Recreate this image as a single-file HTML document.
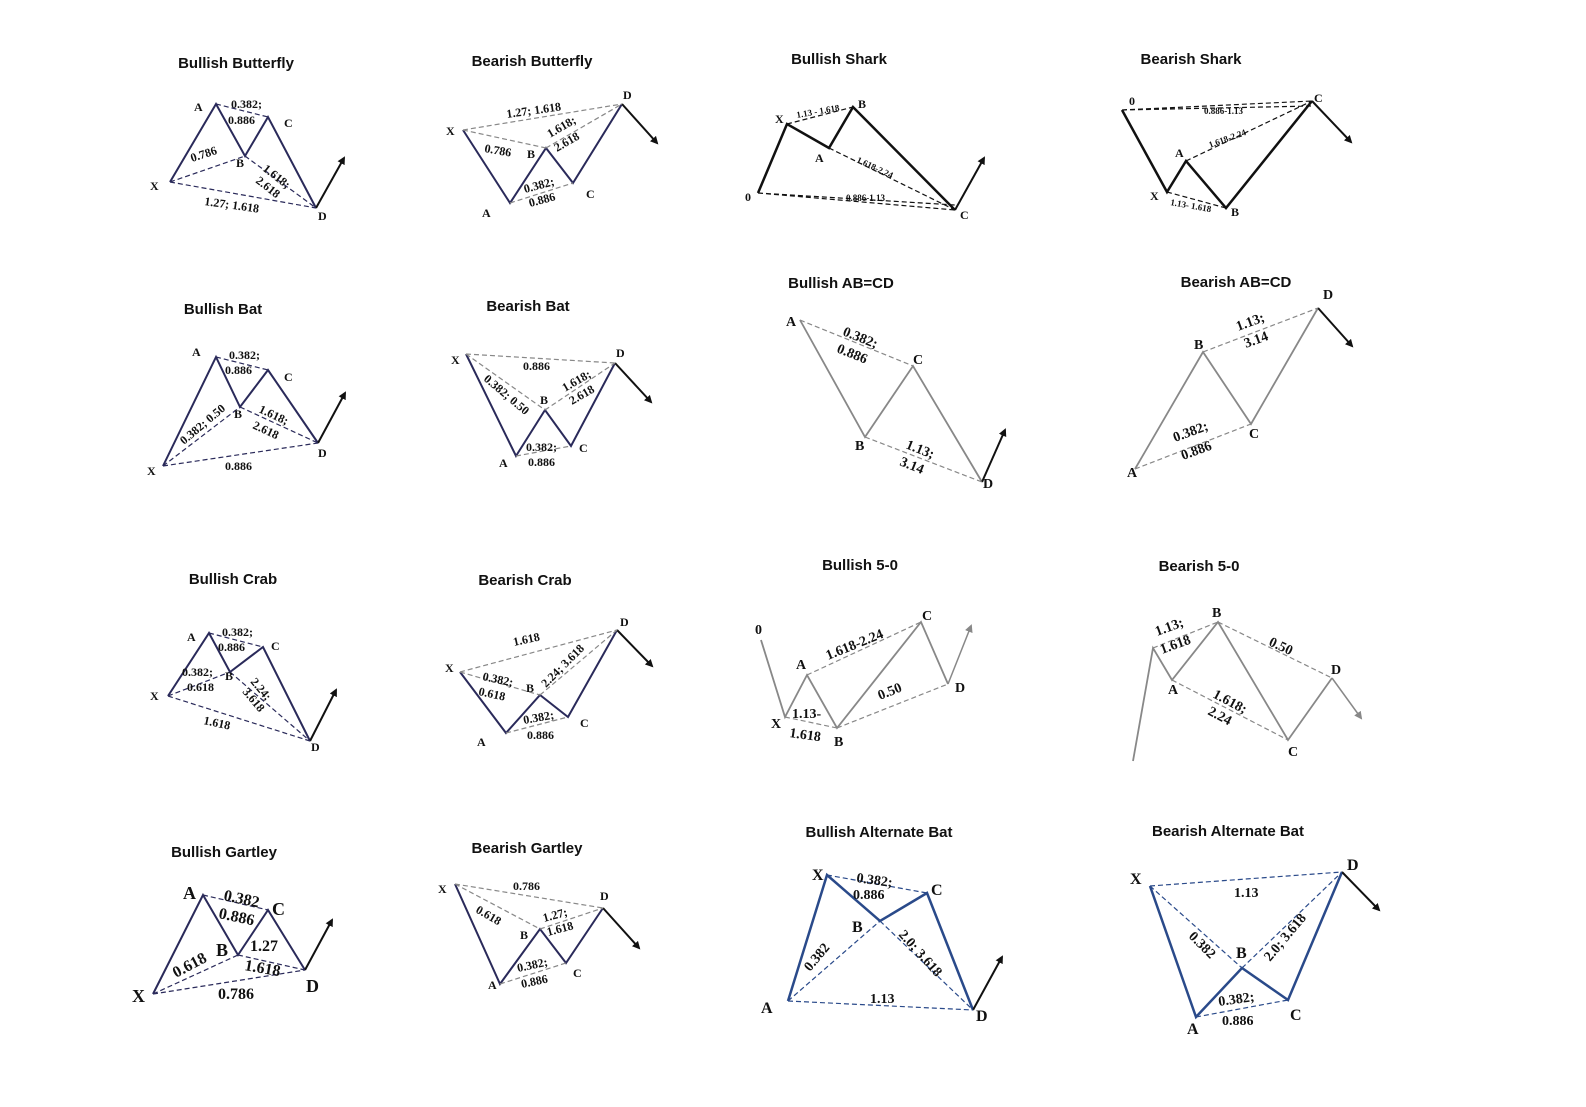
<!DOCTYPE html>
<html><head><meta charset="utf-8"><style>
html,body{margin:0;padding:0;background:#fff}
svg{display:block}
.t{font-family:"Liberation Sans",sans-serif;font-weight:bold;font-size:15px;fill:#111;text-anchor:middle}
.l{font-family:"Liberation Serif",serif;font-weight:bold;font-size:12px;fill:#111}
.big{font-size:16px}
.s{fill:none;stroke-width:2}
.d{fill:none;stroke-width:1.2;stroke-dasharray:5,3}
.n{stroke:#2a2a5a}.k{stroke:#111}.g{stroke:#888}.b{stroke:#2a4a8a}
</style></head><body>
<svg width="1586" height="1107" viewBox="0 0 1586 1107" xmlns="http://www.w3.org/2000/svg">
<defs><marker id="ar" markerWidth="8" markerHeight="8" refX="6" refY="4" orient="auto" markerUnits="userSpaceOnUse"><path d="M0,0 L8,4 L0,8 z" fill="#111"/></marker>
<marker id="ag" markerWidth="8" markerHeight="8" refX="6" refY="4" orient="auto" markerUnits="userSpaceOnUse"><path d="M0,0 L8,4 L0,8 z" fill="#888"/></marker></defs>

<!-- Titles -->
<text class="t" x="236" y="68">Bullish Butterfly</text>
<text class="t" x="532" y="66">Bearish Butterfly</text>
<text class="t" x="839" y="64">Bullish Shark</text>
<text class="t" x="1191" y="64">Bearish Shark</text>
<text class="t" x="223" y="314">Bullish Bat</text>
<text class="t" x="528" y="311">Bearish Bat</text>
<text class="t" x="841" y="288">Bullish AB=CD</text>
<text class="t" x="1236" y="287">Bearish AB=CD</text>
<text class="t" x="233" y="584">Bullish Crab</text>
<text class="t" x="525" y="585">Bearish Crab</text>
<text class="t" x="860" y="570">Bullish 5-0</text>
<text class="t" x="1199" y="571">Bearish 5-0</text>
<text class="t" x="224" y="857">Bullish Gartley</text>
<text class="t" x="527" y="853">Bearish Gartley</text>
<text class="t" x="879" y="837">Bullish Alternate Bat</text>
<text class="t" x="1228" y="836">Bearish Alternate Bat</text>

<!-- 1 Bullish Butterfly -->
<polyline class="s n" points="170,182 216,104 245,156 268,117 316,208"/>
<line class="s k" x1="316" y1="208" x2="344" y2="158" marker-end="url(#ar)"/>
<path class="d n" d="M170,182 L245,156 M216,104 L268,117 M245,156 L316,208 M170,182 L316,208"/>
<g class="l"><text x="231" y="108">0.382;</text><text x="228" y="124">0.886</text><text x="192" y="162" transform="rotate(-18 192 162)">0.786</text><text x="262" y="170" transform="rotate(38 262 170)">1.618;</text><text x="255" y="182" transform="rotate(38 255 182)">2.618</text><text x="204" y="205" transform="rotate(8 204 205)">1.27; 1.618</text>
<text x="194" y="111">A</text><text x="284" y="127">C</text><text x="236" y="167">B</text><text x="150" y="190">X</text><text x="318" y="220">D</text></g>

<!-- 2 Bearish Butterfly -->
<polyline class="s n" points="463,130 510,203 546,148 573,183 622,104"/>
<line class="s k" x1="622" y1="104" x2="657" y2="143" marker-end="url(#ar)"/>
<path class="d g" d="M463,130 L622,104 M463,130 L546,148 M510,203 L573,183 M546,148 L622,104"/>
<g class="l"><text x="507" y="118" transform="rotate(-8 507 118)">1.27; 1.618</text><text x="484" y="152" transform="rotate(10 484 152)">0.786</text><text x="550" y="138" transform="rotate(-30 550 138)">1.618;</text><text x="557" y="152" transform="rotate(-30 557 152)">2.618</text><text x="525" y="193" transform="rotate(-15 525 193)">0.382;</text><text x="530" y="207" transform="rotate(-15 530 207)">0.886</text>
<text x="446" y="135">X</text><text x="482" y="217">A</text><text x="527" y="158">B</text><text x="586" y="198">C</text><text x="623" y="99">D</text></g>

<!-- 3 Bullish Shark -->
<polyline class="s k" style="stroke-width:2.5" points="758,193 787,124 829,148 853,107 955,210"/>
<line class="s k" x1="955" y1="210" x2="984" y2="158" marker-end="url(#ar)"/>
<path class="d k" d="M787,124 L853,107 M829,148 L955,210 M758,193 L955,210 M758,193 L955,205"/>
<g class="l" style="font-size:9px"><text x="797" y="118" transform="rotate(-10 797 118)">1.13 - 1.618</text><text x="856" y="162" transform="rotate(25 856 162)">1.618-2.24</text><text x="846" y="201">0.886-1.13</text></g>
<g class="l"><text x="745" y="201">0</text><text x="775" y="123">X</text><text x="815" y="162">A</text><text x="858" y="108">B</text><text x="960" y="219">C</text></g>

<!-- 4 Bearish Shark -->
<polyline class="s k" style="stroke-width:2.5" points="1122,110 1167,192 1186,161 1226,208 1312,101"/>
<line class="s k" x1="1312" y1="101" x2="1351" y2="142" marker-end="url(#ar)"/>
<path class="d k" d="M1122,110 L1312,101 M1122,110 L1312,106 M1186,161 L1312,101 M1167,192 L1226,208"/>
<g class="l" style="font-size:9px"><text x="1204" y="114">0.886-1.13</text><text x="1210" y="148" transform="rotate(-20 1210 148)">1.618-2.24</text><text x="1170" y="205" transform="rotate(10 1170 205)">1.13- 1.618</text></g>
<g class="l"><text x="1129" y="105">0</text><text x="1150" y="200">X</text><text x="1175" y="157">A</text><text x="1231" y="216">B</text><text x="1314" y="102">C</text></g>

<!-- 5 Bullish Bat -->
<polyline class="s n" points="163,466 216,357 240,407 268,370 318,443"/>
<line class="s k" x1="318" y1="443" x2="345" y2="393" marker-end="url(#ar)"/>
<path class="d n" d="M163,466 L240,407 M216,357 L268,370 M240,407 L318,443 M163,466 L318,443"/>
<g class="l"><text x="229" y="359">0.382;</text><text x="225" y="374">0.886</text><text x="184" y="445" transform="rotate(-40 184 445)">0.382; 0.50</text><text x="258" y="412" transform="rotate(25 258 412)">1.618;</text><text x="252" y="428" transform="rotate(25 252 428)">2.618</text><text x="225" y="470">0.886</text>
<text x="192" y="356">A</text><text x="284" y="381">C</text><text x="234" y="418">B</text><text x="318" y="457">D</text><text x="147" y="475">X</text></g>

<!-- 6 Bearish Bat -->
<polyline class="s n" points="466,354 516,456 545,410 571,446 615,363"/>
<line class="s k" x1="615" y1="363" x2="651" y2="402" marker-end="url(#ar)"/>
<path class="d g" d="M466,354 L615,363 M466,354 L545,410 M516,456 L571,446 M545,410 L615,363"/>
<g class="l"><text x="523" y="370">0.886</text><text x="483" y="380" transform="rotate(40 483 380)">0.382; 0.50</text><text x="565" y="392" transform="rotate(-30 565 392)">1.618;</text><text x="572" y="405" transform="rotate(-30 572 405)">2.618</text><text x="526" y="451">0.382;</text><text x="528" y="466">0.886</text>
<text x="451" y="364">X</text><text x="499" y="467">A</text><text x="540" y="404">B</text><text x="579" y="452">C</text><text x="616" y="357">D</text></g>

<!-- 7 Bullish AB=CD -->
<polyline class="s g" style="stroke-width:1.8" points="800,320 865,437 913,366 982,482"/>
<line class="s k" x1="982" y1="482" x2="1005" y2="430" marker-end="url(#ar)"/>
<path class="d g" d="M800,320 L913,366 M865,437 L982,482"/>
<g class="l" style="font-size:14px"><text x="842" y="335" transform="rotate(22 842 335)">0.382;</text><text x="836" y="352" transform="rotate(22 836 352)">0.886</text><text x="905" y="448" transform="rotate(22 905 448)">1.13;</text><text x="899" y="465" transform="rotate(22 899 465)">3.14</text>
<text x="786" y="326">A</text><text x="855" y="450">B</text><text x="913" y="364">C</text><text x="983" y="488">D</text></g>

<!-- 8 Bearish AB=CD -->
<polyline class="s g" style="stroke-width:1.8" points="1135,469 1203,352 1251,424 1318,308"/>
<line class="s k" x1="1318" y1="308" x2="1352" y2="346" marker-end="url(#ar)"/>
<path class="d g" d="M1135,469 L1251,424 M1203,352 L1318,308"/>
<g class="l" style="font-size:14px"><text x="1238" y="331" transform="rotate(-20 1238 331)">1.13;</text><text x="1246" y="348" transform="rotate(-20 1246 348)">3.14</text><text x="1175" y="442" transform="rotate(-20 1175 442)">0.382;</text><text x="1183" y="460" transform="rotate(-20 1183 460)">0.886</text>
<text x="1127" y="477">A</text><text x="1194" y="349">B</text><text x="1249" y="438">C</text><text x="1323" y="299">D</text></g>

<!-- 9 Bullish Crab -->
<polyline class="s n" points="168,696 209,633 230,672 263,647 310,741"/>
<line class="s k" x1="310" y1="741" x2="336" y2="690" marker-end="url(#ar)"/>
<path class="d n" d="M168,696 L230,672 M209,633 L263,647 M230,672 L310,741 M168,696 L310,741"/>
<g class="l"><text x="222" y="636">0.382;</text><text x="218" y="651">0.886</text><text x="182" y="676">0.382;</text><text x="187" y="691">0.618</text><text x="250" y="682" transform="rotate(50 250 682)">2.24;</text><text x="242" y="692" transform="rotate(50 242 692)">3.618</text><text x="203" y="724" transform="rotate(12 203 724)">1.618</text>
<text x="187" y="641">A</text><text x="271" y="650">C</text><text x="225" y="680">B</text><text x="150" y="700">X</text><text x="311" y="751">D</text></g>

<!-- 10 Bearish Crab -->
<polyline class="s n" points="460,672 506,733 540,695 568,717 617,630"/>
<line class="s k" x1="617" y1="630" x2="652" y2="666" marker-end="url(#ar)"/>
<path class="d g" d="M460,672 L617,630 M460,672 L540,695 M506,733 L568,717 M540,695 L617,630"/>
<g class="l"><text x="514" y="646" transform="rotate(-12 514 646)">1.618</text><text x="482" y="680" transform="rotate(12 482 680)">0.382;</text><text x="478" y="695" transform="rotate(12 478 695)">0.618</text><text x="546" y="688" transform="rotate(-45 546 688)">2.24; 3.618</text><text x="524" y="724" transform="rotate(-10 524 724)">0.382;</text><text x="527" y="739">0.886</text>
<text x="445" y="672">X</text><text x="477" y="746">A</text><text x="526" y="692">B</text><text x="580" y="727">C</text><text x="620" y="626">D</text></g>

<!-- 11 Bullish 5-0 -->
<polyline class="s g" style="stroke-width:1.8" points="761,640 785,717 807,675 837,728 921,622 948,684"/>
<line class="s g" x1="948" y1="684" x2="971" y2="626" style="stroke-width:1.5" marker-end="url(#ag)"/>
<path class="d g" d="M807,675 L921,622 M837,728 L948,684 M785,717 L837,728"/>
<g class="l" style="font-size:14px"><text x="828" y="660" transform="rotate(-22 828 660)">1.618-2.24</text><text x="880" y="700" transform="rotate(-22 880 700)">0.50</text><text x="792" y="718">1.13-</text><text x="789" y="737" transform="rotate(8 789 737)">1.618</text>
<text x="755" y="634">0</text><text x="771" y="728">X</text><text x="796" y="669">A</text><text x="834" y="746">B</text><text x="922" y="620">C</text><text x="955" y="692">D</text></g>

<!-- 12 Bearish 5-0 -->
<polyline class="s g" style="stroke-width:1.8" points="1133,761 1153,648 1172,680 1218,622 1288,740 1332,678"/>
<line class="s g" x1="1332" y1="678" x2="1361" y2="718" style="stroke-width:1.5" marker-end="url(#ag)"/>
<path class="d g" d="M1153,648 L1218,622 M1172,680 L1288,740 M1218,622 L1332,678"/>
<g class="l" style="font-size:14px"><text x="1157" y="636" transform="rotate(-20 1157 636)">1.13;</text><text x="1162" y="654" transform="rotate(-20 1162 654)">1.618</text><text x="1268" y="645" transform="rotate(25 1268 645)">0.50</text><text x="1212" y="697" transform="rotate(28 1212 697)">1.618;</text><text x="1207" y="714" transform="rotate(28 1207 714)">2.24</text>
<text x="1212" y="617">B</text><text x="1168" y="694">A</text><text x="1288" y="756">C</text><text x="1331" y="674">D</text></g>

<!-- 13 Bullish Gartley -->
<polyline class="s n" points="153,994 203,895 238,955 268,910 305,970"/>
<line class="s k" x1="305" y1="970" x2="332" y2="920" marker-end="url(#ar)"/>
<path class="d n" d="M153,994 L238,955 M203,895 L268,910 M238,955 L305,970 M153,994 L305,970"/>
<g class="l big"><text x="223" y="900" transform="rotate(12 223 900)">0.382</text><text x="218" y="918" transform="rotate(12 218 918)">0.886</text><text x="176" y="978" transform="rotate(-28 176 978)">0.618</text><text x="250" y="951">1.27</text><text x="244" y="970" transform="rotate(10 244 970)">1.618</text><text x="218" y="999">0.786</text>
<text x="183" y="899" style="font-size:18px">A</text><text x="272" y="915" style="font-size:18px">C</text><text x="216" y="956" style="font-size:18px">B</text><text x="132" y="1002" style="font-size:18px">X</text><text x="306" y="992" style="font-size:18px">D</text></g>

<!-- 14 Bearish Gartley -->
<polyline class="s n" points="455,884 500,984 540,929 566,963 603,908"/>
<line class="s k" x1="603" y1="908" x2="639" y2="948" marker-end="url(#ar)"/>
<path class="d g" d="M455,884 L603,908 M455,884 L540,929 M500,984 L566,963 M540,929 L603,908"/>
<g class="l"><text x="513" y="890">0.786</text><text x="475" y="912" transform="rotate(30 475 912)">0.618</text><text x="544" y="922" transform="rotate(-15 544 922)">1.27;</text><text x="548" y="936" transform="rotate(-15 548 936)">1.618</text><text x="518" y="972" transform="rotate(-12 518 972)">0.382;</text><text x="522" y="988" transform="rotate(-12 522 988)">0.886</text>
<text x="438" y="893">X</text><text x="488" y="989">A</text><text x="520" y="939">B</text><text x="573" y="977">C</text><text x="600" y="900">D</text></g>

<!-- 15 Bullish Alternate Bat -->
<polyline class="s b" style="stroke-width:2.5" points="788,1001 827,875 880,921 927,893 973,1010"/>
<line class="s k" x1="973" y1="1010" x2="1002" y2="957" marker-end="url(#ar)"/>
<path class="d b" d="M788,1001 L973,1010 M827,875 L927,893 M788,1001 L880,921 M880,921 L973,1010"/>
<g class="l" style="font-size:14px"><text x="856" y="882" transform="rotate(8 856 882)">0.382;</text><text x="853" y="899">0.886</text><text x="810" y="972" transform="rotate(-50 810 972)">0.382</text><text x="898" y="935" transform="rotate(48 898 935)">2.0; 3.618</text><text x="870" y="1003">1.13</text>
<text x="812" y="880" style="font-size:16px">X</text><text x="931" y="895" style="font-size:16px">C</text><text x="852" y="932" style="font-size:16px">B</text><text x="761" y="1013" style="font-size:16px">A</text><text x="976" y="1021" style="font-size:16px">D</text></g>

<!-- 16 Bearish Alternate Bat -->
<polyline class="s b" style="stroke-width:2.5" points="1150,886 1196,1017 1242,968 1288,1000 1342,872"/>
<line class="s k" x1="1342" y1="872" x2="1379" y2="910" marker-end="url(#ar)"/>
<path class="d b" d="M1150,886 L1342,872 M1150,886 L1242,968 M1196,1017 L1288,1000 M1242,968 L1342,872"/>
<g class="l" style="font-size:14px"><text x="1234" y="897">1.13</text><text x="1188" y="937" transform="rotate(45 1188 937)">0.382</text><text x="1270" y="962" transform="rotate(-50 1270 962)">2.0; 3.618</text><text x="1219" y="1006" transform="rotate(-8 1219 1006)">0.382;</text><text x="1222" y="1025">0.886</text>
<text x="1130" y="884" style="font-size:16px">X</text><text x="1347" y="870" style="font-size:16px">D</text><text x="1236" y="958" style="font-size:16px">B</text><text x="1187" y="1034" style="font-size:16px">A</text><text x="1290" y="1020" style="font-size:16px">C</text></g>
</svg>
</body></html>
